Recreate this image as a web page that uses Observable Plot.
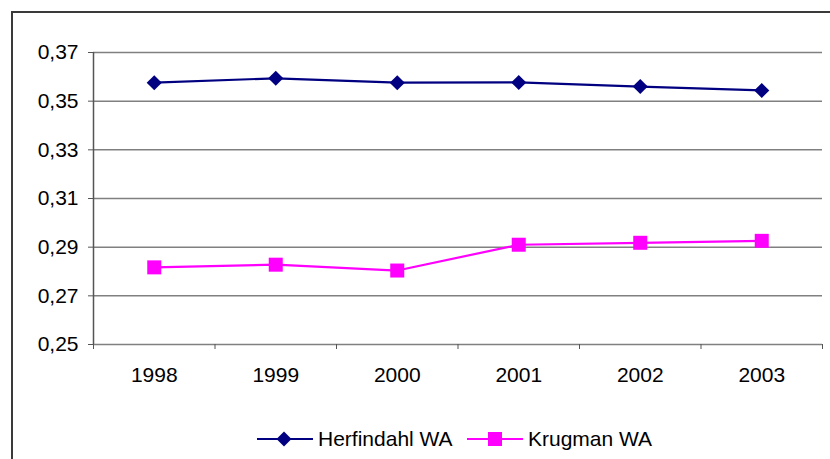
<!DOCTYPE html>
<html>
<head>
<meta charset="utf-8">
<script src="https://cdn.jsdelivr.net/npm/d3@7"></script>
<script src="https://cdn.jsdelivr.net/npm/@observablehq/plot@0.6"></script>
<style>
  html, body { margin: 0; padding: 0; background: #fff; }
  #wrap { position: relative; width: 830px; height: 459px; overflow: hidden; font-family: "Liberation Sans", Arial, sans-serif; }
  #frame { position: absolute; left: 11px; top: 11px; width: 840px; height: 480px; border: 2px solid #3a3a3a; box-sizing: border-box; }
  #chart { position: absolute; left: 0; top: 0; }
  #legend { position: absolute; left: 0; top: 424px; width: 830px; height: 30px; }
  .item { position: absolute; top: 0; display: flex; align-items: center; font-size: 21px; color: #000; }
</style>
</head>
<body>
<div id="wrap">
  <div id="frame"></div>
  <div id="chart"></div>
  <div id="legend"></div>
</div>
<script>
const years = [1998, 1999, 2000, 2001, 2002, 2003];
const herfindahl = [0.3576, 0.3594, 0.3576, 0.3577, 0.3560, 0.3544];
const krugman = [0.2817, 0.2828, 0.2804, 0.2910, 0.2918, 0.2926];
const yTicks = [0.25, 0.27, 0.29, 0.31, 0.33, 0.35, 0.37];
const seriesNames = ["Herfindahl WA", "Krugman WA"];
const seriesColors = ["#000080", "#FF00FF"];

const data = [];
years.forEach((y, i) => data.push({year: y, value: herfindahl[i], series: seriesNames[0]}));
years.forEach((y, i) => data.push({year: y, value: krugman[i], series: seriesNames[1]}));
const bounds = years.map(y => y - 0.5).concat([years[years.length - 1] + 0.5]);

const fmt = d => d.toFixed(2).replace(".", ",");

const plot = Plot.plot({
  width: 830,
  height: 400,
  marginLeft: 93,
  marginRight: 8,
  marginTop: 52,
  marginBottom: 56,
  style: {fontFamily: "'Liberation Sans', Arial, sans-serif", fontSize: "21px", color: "#000", background: "transparent"},
  x: {type: "linear", domain: [bounds[0], bounds[bounds.length - 1]]},
  y: {domain: [0.25, 0.37]},
  marks: [
    Plot.gridY(yTicks, {stroke: "#808080", strokeOpacity: 1, strokeWidth: 1.5, x1: bounds[0], x2: bounds[bounds.length - 1]}),
    Plot.ruleX([bounds[0]], {y1: 0.25, y2: 0.37, stroke: "#555", strokeWidth: 1.5}),
    Plot.axisY(yTicks, {tickSize: 5, tickPadding: 10, tickFormat: fmt, stroke: "#555", fontSize: 21, label: null}),
    Plot.axisX(bounds, {tickSize: 5, tickFormat: () => "", stroke: "#555", label: null}),
    Plot.axisX(years, {tickSize: 0, tickPadding: 23, tickFormat: d => String(d), fontSize: 21, label: null}),
    Plot.line(data, {x: "year", y: "value", z: "series", stroke: d => d.series === seriesNames[0] ? seriesColors[0] : seriesColors[1], strokeWidth: 2.2}),
    Plot.dot(data.filter(d => d.series === seriesNames[0]), {x: "year", y: "value", symbol: "diamond2", r: 6.8, fill: seriesColors[0], stroke: "none"}),
    Plot.dot(data.filter(d => d.series === seriesNames[1]), {x: "year", y: "value", symbol: "square", r: 7.9, fill: seriesColors[1], stroke: "none"})
  ]
});
document.getElementById("chart").appendChild(plot);

// legend
const legend = document.getElementById("legend");
const items = [
  {name: seriesNames[0], color: seriesColors[0], left: 256, shape: "diamond"},
  {name: seriesNames[1], color: seriesColors[1], left: 466, shape: "square"}
];
for (const it of items) {
  const div = document.createElement("div");
  div.className = "item";
  div.style.left = it.left + "px";
  const svg = d3.create("svg").attr("width", 58).attr("height", 30).style("margin-right", "4px");
  svg.append("line").attr("x1", 1).attr("x2", 57).attr("y1", 15).attr("y2", 15).attr("stroke", it.color).attr("stroke-width", 2.2);
  if (it.shape === "diamond") {
    svg.append("path").attr("d", "M28,7.5L35.5,15L28,22.5L20.5,15Z").attr("fill", it.color);
  } else {
    svg.append("rect").attr("x", 22).attr("y", 8).attr("width", 14).attr("height", 14).attr("fill", it.color);
  }
  div.appendChild(svg.node());
  const span = document.createElement("span");
  span.textContent = it.name;
  div.appendChild(span);
  legend.appendChild(div);
}
</script>
</body>
</html>
